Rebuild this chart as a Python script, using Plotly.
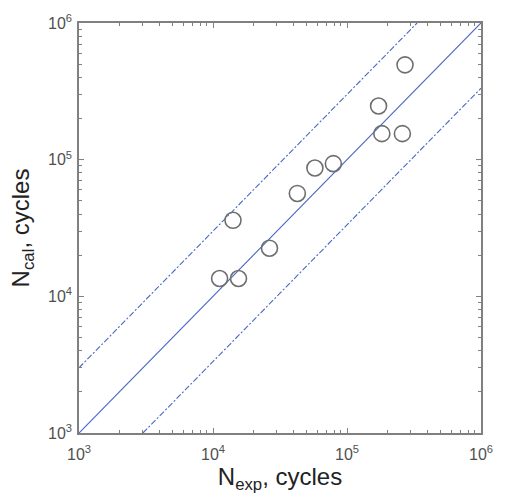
import plotly.graph_objects as go

n_exp = [2.71e5, 1.72e5, 1.82e5, 2.59e5, 5.76e4, 7.91e4, 4.26e4, 1.41e4, 2.64e4, 1.12e4, 1.55e4]
n_cal = [4.94e5, 2.47e5, 1.55e5, 1.55e5, 8.69e4, 9.35e4, 5.66e4, 3.60e4, 2.25e4, 1.35e4, 1.35e4]

line_x = [1e3, 1e6]
band_factor = 3.0
decades = [1e3, 1e4, 1e5, 1e6]
tick_text = ["10<sup>3</sup>", "10<sup>4</sup>", "10<sup>5</sup>", "10<sup>6</sup>"]
minor_vals = [m * d for d in [1e3, 1e4, 1e5] for m in range(2, 10)]

blue = "#4a68c4"
fig = go.Figure()
fig.add_trace(go.Scatter(x=line_x, y=line_x, mode="lines",
                         line=dict(color=blue, width=1.2), showlegend=False))
fig.add_trace(go.Scatter(x=[1e3, 1e6 / band_factor], y=[1e3 * band_factor, 1e6], mode="lines",
                         line=dict(color=blue, width=1.1, dash="6px,2px,2px,2px"), showlegend=False))
fig.add_trace(go.Scatter(x=[1e3 * band_factor, 1e6], y=[1e3, 1e6 / band_factor], mode="lines",
                         line=dict(color=blue, width=1.1, dash="6px,2px,2px,2px"), showlegend=False))
fig.add_trace(go.Scatter(x=n_exp, y=n_cal, mode="markers",
                         marker=dict(symbol="circle-open", size=16, color="#6e6e6e",
                                     line=dict(width=1.6, color="#6e6e6e")),
                         showlegend=False))

axis_common = dict(
    type="log", range=[3, 6], showgrid=False, zeroline=False,
    showline=True, linecolor="#808080", linewidth=1.5, mirror="allticks",
    ticks="inside", ticklen=5, tickcolor="#808080", tickwidth=1,
    tickvals=decades, ticktext=tick_text,
    tickfont=dict(family="Liberation Sans, Arial", size=16, color="#505050"),
    minor=dict(ticks="inside", ticklen=3, tickcolor="#808080", tickvals=minor_vals, showgrid=False),
)
fig.update_xaxes(**axis_common, ticklabelstandoff=6,
                 title=dict(text="N<sub>exp</sub>, cycles", standoff=4,
                            font=dict(family="Liberation Sans, Arial", size=24, color="#222")))
fig.update_yaxes(**axis_common, ticklabelstandoff=2,
                 title=dict(text="N<sub>cal</sub>, cycles", standoff=12,
                            font=dict(family="Liberation Sans, Arial", size=24, color="#222")))
fig.update_layout(width=505, height=497, margin=dict(l=79, r=13, t=21, b=64),
                  plot_bgcolor="white", paper_bgcolor="white")
fig.write_html("out.html")
